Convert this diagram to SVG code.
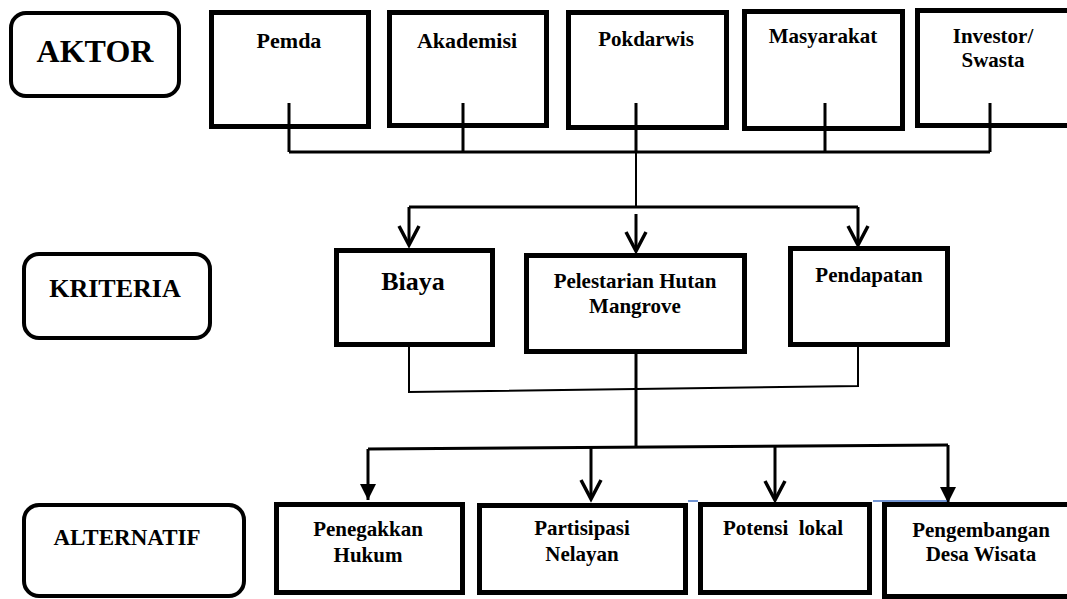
<svg xmlns="http://www.w3.org/2000/svg" width="1067" height="599" viewBox="0 0 1067 599">
<style>
.box{fill:#fff;stroke:#000;stroke-width:5}
.rnd{fill:#fff;stroke:#000;stroke-width:4}
.t{font-family:'Liberation Serif','DejaVu Serif',serif;font-weight:700;fill:#000;text-anchor:middle}
.c{fill:none;stroke:#000;stroke-width:3}
.thin{fill:none;stroke:#000;stroke-width:2}
.blue{fill:none;stroke:#4472c4;stroke-width:1.5}
</style>
<defs>
<marker id="open" markerUnits="userSpaceOnUse" orient="auto" refX="0" refY="0" markerWidth="30" markerHeight="30" viewBox="-25 -15 30 30" overflow="visible">
<path d="M-19,-10 L0,0 L-19,10" fill="none" stroke="#000" stroke-width="3.5"/>
</marker>
<marker id="fill" markerUnits="userSpaceOnUse" orient="auto" refX="0" refY="0" markerWidth="30" markerHeight="30" viewBox="-25 -15 30 30" overflow="visible">
<path d="M-16,-8 L0,0 L-16,8 Z" fill="#000"/>
</marker>
</defs>
<rect width="1067" height="599" fill="#fff"/>
<g id="aktor"><rect class="rnd" x="11" y="13" width="168" height="83" rx="15"/><text class="t" font-family="Liberation Serif, serif" x="95" y="62" font-size="32">AKTOR</text></g>
<g id="kriteria"><rect class="rnd" x="24" y="254" width="186" height="84" rx="15"/><text class="t" x="115" y="297" font-size="26">KRITERIA</text></g>
<g id="alternatif"><rect class="rnd" x="24" y="505" width="220" height="91" rx="15"/><text class="t" x="127" y="545" font-size="23">ALTERNATIF</text></g>
<g id="pemda"><rect class="box" x="211.5" y="12.5" width="157" height="114"/><text class="t" x="289" y="48" font-size="22">Pemda</text></g>
<g id="akademisi"><rect class="box" x="389.5" y="12.5" width="157" height="113"/><text class="t" x="467" y="48" font-size="22">Akademisi</text></g>
<g id="pokdarwis"><rect class="box" x="568.5" y="12.5" width="158" height="115"/><text class="t" x="646" y="46" font-size="21">Pokdarwis</text></g>
<g id="masyarakat"><rect class="box" x="744.5" y="11.5" width="158" height="117"/><text class="t" x="823" y="43" font-size="21">Masyarakat</text></g>
<g id="investor"><rect class="box" x="917.5" y="10.5" width="160" height="115"/><text class="t" x="993" y="43" font-size="21">Investor/</text><text class="t" x="993" y="67" font-size="21">Swasta</text></g>
<g id="biaya"><rect class="box" x="336.5" y="250.5" width="156" height="94"/><text class="t" x="413" y="290" font-size="26">Biaya</text></g>
<g id="pelestarian"><rect class="box" x="526.5" y="255.5" width="218" height="96"/><text class="t" x="635" y="288" font-size="21">Pelestarian Hutan</text><text class="t" x="635" y="313" font-size="21">Mangrove</text></g>
<g id="pendapatan"><rect class="box" x="790.5" y="248.5" width="157" height="96"/><text class="t" x="869" y="282" font-size="21">Pendapatan</text></g>
<g id="penegakkan"><rect class="box" x="276.5" y="504.5" width="186" height="88"/><text class="t" x="368" y="536" font-size="21">Penegakkan</text><text class="t" x="368" y="562" font-size="21">Hukum</text></g>
<g id="partisipasi"><rect class="box" x="479.5" y="505.5" width="206" height="87"/><text class="t" x="582" y="535" font-size="21">Partisipasi</text><text class="t" x="582" y="561" font-size="21">Nelayan</text></g>
<g id="potensi"><rect class="box" x="700.5" y="504.5" width="169" height="88"/><text class="t" x="783" y="535" font-size="21" xml:space="preserve">Potensi  lokal</text></g>
<g id="pengembangan"><rect class="box" x="884.5" y="504.5" width="200" height="92"/><text class="t" x="981" y="537" font-size="21">Pengembangan</text><text class="t" x="981" y="561" font-size="21">Desa Wisata</text></g>
<g id="connectors">
<path class="c" d="M289,103 V152 M463,103 V152 M636,103 V152 M825,103 V152 M990,103 V152 M289,152 H990"/>
<path class="thin" d="M636,152 V207"/>
<path class="c" d="M409,207 H858"/>
<path class="c" d="M409,207 V245" marker-end="url(#open)"/>
<path class="c" d="M858,207 V245" marker-end="url(#open)"/>
<path class="c" d="M636,214 V251" marker-end="url(#open)"/>
<path class="thin" d="M409,347 V392 L858,386 V347" stroke-width="2.5"/>
<path class="c" d="M636,354 V447"/>
<path class="c" d="M368,449 L948,445"/>
<path class="c" d="M368,449 V500" marker-end="url(#fill)"/>
<path class="c" d="M591,447 V499" marker-end="url(#open)"/>
<path class="c" d="M775,446 V500" marker-end="url(#open)"/>
<path class="c" d="M948,445 V503" marker-end="url(#fill)"/>
<path class="blue" d="M688,501 H698 M873,501 H947"/>
</g>
</svg>
